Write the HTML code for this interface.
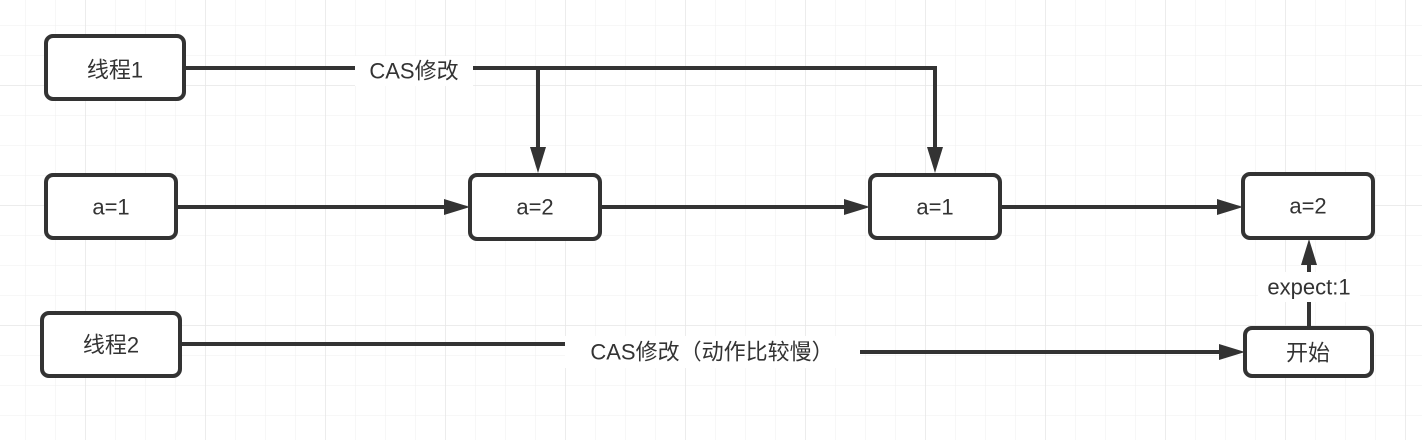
<!DOCTYPE html>
<html><head><meta charset="utf-8"><style>
html,body{margin:0;padding:0;background:#fff}
svg{display:block}
text{font-family:"Liberation Sans","Noto Sans CJK SC",sans-serif;fill:#333;font-size:22px;text-anchor:middle;dominant-baseline:central}
</style></head><body>
<svg width="1422" height="440" viewBox="0 0 1422 440" xmlns="http://www.w3.org/2000/svg">
<defs>
<pattern id="g" x="25" y="25" width="30" height="30" patternUnits="userSpaceOnUse">
<path d="M0 0H30M0 0V30" stroke="#efefef" stroke-width="1" fill="none"/>
</pattern>
<pattern id="G" x="85" y="85" width="120" height="120" patternUnits="userSpaceOnUse">
<path d="M0 0H120M0 0V120" stroke="#e6e6e6" stroke-width="1.5" fill="none"/>
</pattern>
</defs>
<rect width="1422" height="440" fill="url(#g)"/>
<rect width="1422" height="440" fill="url(#G)"/>
<g stroke="#333" stroke-width="4" fill="none">
<path d="M185 68H935V150"/>
<path d="M538 68V150"/>
<path d="M177 207H450"/>
<path d="M600 207H850"/>
<path d="M1000 207H1222"/>
<path d="M180 344H565"/>
<path d="M860 352H1222"/>
<path d="M1309 327V262"/>
</g>
<g fill="#333">
<path d="M530 147L546 147L538 173Z"/>
<path d="M927 147L943 147L935 173Z"/>
<path d="M444 199L444 215L470 207Z"/>
<path d="M844 199L844 215L870 207Z"/>
<path d="M1217 199L1217 215L1243 207Z"/>
<path d="M1219 344L1219 360L1245 352Z"/>
<path d="M1301 265L1317 265L1309 239Z"/>
</g>
<g stroke="#333" stroke-width="4" fill="#fff">
<rect x="46" y="36" width="138" height="63" rx="7"/>
<rect x="46" y="175" width="130" height="63" rx="7"/>
<rect x="470" y="175" width="130" height="64" rx="7"/>
<rect x="870" y="175" width="130" height="63" rx="7"/>
<rect x="1243" y="174" width="130" height="64" rx="7"/>
<rect x="42" y="313" width="138" height="63" rx="7"/>
<rect x="1245" y="328" width="127" height="48" rx="7"/>
</g>
<rect x="355" y="56" width="118" height="30" fill="#fff"/>
<rect x="565" y="336" width="295" height="32" fill="#fff"/>
<rect x="1258" y="272" width="102" height="30" fill="#fff"/>
<text x="115" y="70">线程1</text>
<text x="111" y="207">a=1</text>
<text x="535" y="207">a=2</text>
<text x="935" y="207">a=1</text>
<text x="1308" y="206">a=2</text>
<text x="111" y="345">线程2</text>
<text x="1308" y="353">开始</text>
<text x="414" y="71">CAS修改</text>
<text x="712" y="352">CAS修改（动作比较慢）</text>
<text x="1309" y="287">expect:1</text>
</svg>
</body></html>
